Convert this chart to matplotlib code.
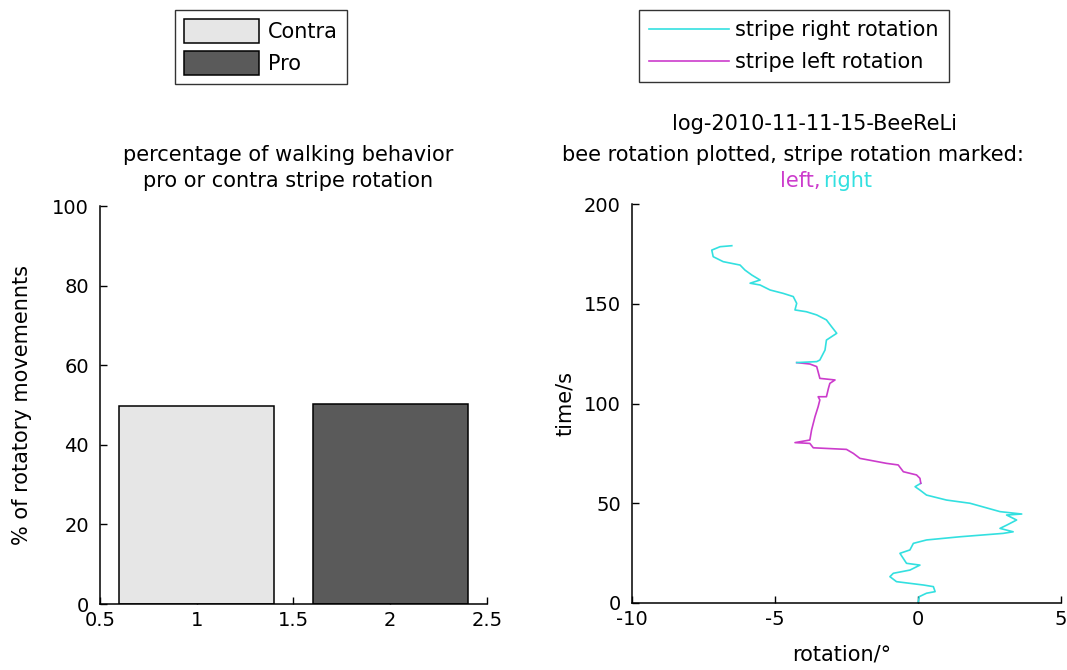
import matplotlib
matplotlib.use("Agg")
import matplotlib.pyplot as plt
import numpy as np
from matplotlib.patches import Patch
from matplotlib.lines import Line2D

plt.rcParams['font.family'] = ['DejaVu Sans']
plt.rcParams['axes.unicode_minus'] = False

# ---- bar panel data ----
categories = ["Contra", "Pro"]
bar_positions = [1, 2]
percent_rotatory = [49.7, 50.3]
bar_colors = ["#e6e6e6", "#5a5a5a"]

# ---- rotation trace data ----
time_s = [0.0, 3.2, 4.9, 5.7, 8.2, 9.0, 10.7, 13.2, 14.9, 16.5, 19.0, 19.9,
          24.9, 26.6, 29.9, 31.6, 33.2, 34.9, 35.7, 37.4, 39.0, 41.6, 44.1,
          44.6, 45.8, 50.0, 51.6, 54.1, 56.6, 58.3, 60.0, 62.5, 64.2, 65.8,
          69.2, 70.0, 72.5, 75.0, 77.0, 77.8, 80.0, 80.4, 81.7, 86.7, 93.4,
          98.4, 101.8, 103.4, 103.4, 107.6, 110.1, 111.8, 112.6, 118.5, 119.8,
          120.5, 121.0, 121.8, 126.8, 131.8, 135.2, 138.5, 141.9, 144.4, 146.0,
          146.9, 150.2, 153.6, 155.2, 156.9, 159.4, 160.3, 161.9, 164.4, 166.9,
          169.4, 171.1, 173.6, 176.9, 178.6, 179.1]
rotation_deg = [0.0, 0.05, 0.3, 0.6, 0.54, 0.2, -0.75, -0.98, -0.86, -0.28,
                0.07, -0.4, -0.63, -0.28, -0.16, 0.3, 1.47, 2.98, 3.33, 2.87,
                3.1, 3.45, 3.1, 3.63, 2.87, 1.82, 1.0, 0.3, 0.07, -0.1, 0.1,
                0.07, -0.05, -0.51, -0.69, -1.1, -2.03, -2.26, -2.5, -3.66,
                -3.78, -4.3, -3.78, -3.72, -3.6, -3.49, -3.43, -3.49, -3.2,
                -3.13, -3.08, -2.9, -3.43, -3.54, -3.78, -4.24, -3.54, -3.43,
                -3.25, -3.2, -2.84, -3.02, -3.2, -3.54, -3.9, -4.3, -4.24,
                -4.36, -4.71, -5.17, -5.52, -5.87, -5.52, -5.81, -6.05, -6.22,
                -6.81, -7.16, -7.21, -6.92, -6.51]
# stripe rotation direction between successive change times
stripe_change_s = [0.0, 60.0, 120.5, 179.1]
stripe_direction = ["right", "left", "right"]

CYAN = "#33e0e0"
MAGENTA = "#cc3ccc"
dir_color = {"right": CYAN, "left": MAGENTA}

TXT = 15     # titles, labels, legends
TICK = 14    # tick labels

fig = plt.figure(figsize=(10.67, 6.70), dpi=100)
fig.patch.set_facecolor("white")


def matlab_style(ax):
    for s in ("top", "right"):
        ax.spines[s].set_visible(False)
    for s in ("left", "bottom"):
        ax.spines[s].set_linewidth(1.1)
    ax.tick_params(direction="in", length=5, width=1.0, labelsize=TICK)
    ax.tick_params(axis="x", pad=5)
    ax.tick_params(axis="y", pad=8)


# ---- left: bar chart ----
ax1 = fig.add_axes([0.0937, 0.0985, 0.3627, 0.594])
ax1.bar(bar_positions, percent_rotatory, width=0.8, color=bar_colors,
        edgecolor="black", linewidth=1.1, zorder=2)
ax1.set_axisbelow(True)
ax1.set_xlim(0.5, 2.5)
ax1.set_ylim(0, 100)
ax1.set_xticks([0.5, 1, 1.5, 2, 2.5])
ax1.set_xticklabels(["0.5", "1", "1.5", "2", "2.5"])
ax1.set_yticks(np.arange(0, 101, 20))
matlab_style(ax1)
ax1.set_ylabel("% of rotatory movemennts", fontsize=TXT)
ax1.yaxis.set_label_coords(-0.175, 0.5)
fig.text(288 / 1067, 1 - 155 / 670, "percentage of walking behavior",
         ha="center", va="center", fontsize=TXT)
fig.text(288 / 1067, 1 - 181 / 670, "pro or contra stripe rotation",
         ha="center", va="center", fontsize=TXT)

leg1 = fig.legend([Patch(facecolor=c, edgecolor="black", linewidth=1.1)
                   for c in bar_colors], categories,
                  loc="upper left", bbox_to_anchor=(175 / 1067, 1 - 10 / 670),
                  fontsize=TXT, frameon=True, fancybox=False,
                  edgecolor="black", handlelength=3.6, handleheight=1.4,
                  handletextpad=0.4, borderpad=0.45, labelspacing=0.35,
                  borderaxespad=0)
leg1.get_frame().set_linewidth(1.0)

# ---- right: rotation trace ----
ax2 = fig.add_axes([0.5923, 0.1, 0.402, 0.5955])
t = np.asarray(time_s)
r = np.asarray(rotation_deg)
for start, stop, d in zip(stripe_change_s[:-1], stripe_change_s[1:],
                          stripe_direction):
    m = (t >= start) & (t <= stop)
    ax2.plot(r[m], t[m], color=dir_color[d], linewidth=1.2)
ax2.set_xlim(-10, 5)
ax2.set_ylim(0, 200)
ax2.set_xticks([-10, -5, 0, 5])
ax2.set_yticks(np.arange(0, 201, 50))
matlab_style(ax2)
ax2.set_xlabel("rotation/°", fontsize=TXT)
ax2.xaxis.set_label_coords(0.49, -0.105)
ax2.set_ylabel("time/s", fontsize=TXT)
ax2.yaxis.set_label_coords(-0.133, 0.5)

fig.text(815 / 1067, 1 - 124 / 670, "log-2010-11-11-15-BeeReLi",
         ha="center", va="center", fontsize=TXT)
fig.text(793 / 1067, 1 - 155 / 670,
         "bee rotation plotted, stripe rotation marked:",
         ha="center", va="center", fontsize=TXT)
fig.text(821 / 1067, 1 - 181 / 670, "left,", color=MAGENTA,
         ha="right", va="center", fontsize=TXT)
fig.text(823 / 1067, 1 - 181 / 670, "right", color=CYAN,
         ha="left", va="center", fontsize=TXT)

leg2 = fig.legend([Line2D([], [], color=CYAN, linewidth=1.2),
                   Line2D([], [], color=MAGENTA, linewidth=1.2)],
                  ["stripe right rotation", "stripe left rotation"],
                  loc="upper left", bbox_to_anchor=(639 / 1067, 1 - 10 / 670),
                  fontsize=TXT, frameon=True, fancybox=False,
                  edgecolor="black", handlelength=3.8, handletextpad=0.3,
                  borderpad=0.5, labelspacing=0.55, borderaxespad=0)
leg2.get_frame().set_linewidth(1.0)

fig.savefig("out.png", dpi=100, facecolor="white")
